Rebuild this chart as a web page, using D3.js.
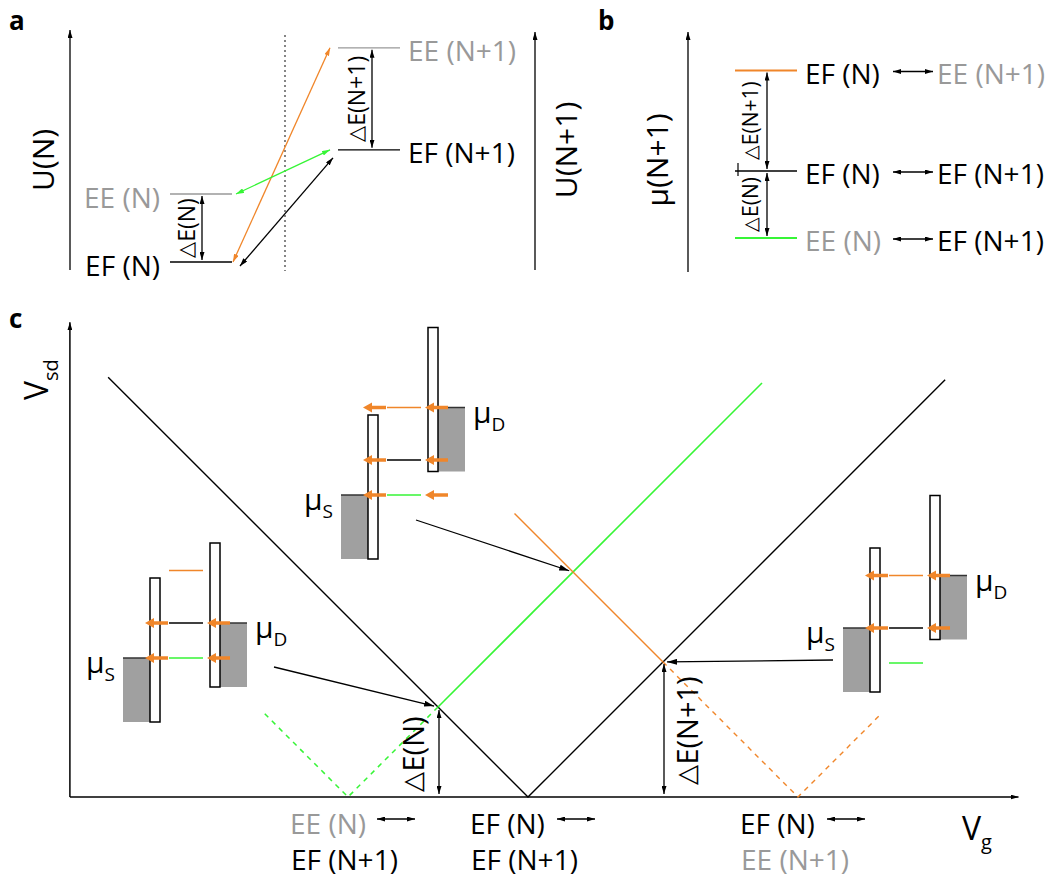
<!DOCTYPE html>
<html><head><meta charset="utf-8">
<script src="https://cdn.jsdelivr.net/npm/d3@7"></script>
<style>body{margin:0;background:#fff} svg{display:block} text{font-family:"Open Sans",sans-serif}</style>
</head><body>
<script>
// ---------- DATA ----------
// Panel a: energy levels (units of level spacing)
const levelNamesA = ["EF (N)", "EE (N)", "EF (N+1)", "EE (N+1)"];
const levelEnergyA = [0, 2, 3.3, 6.3];
const levelChargeA = ["N", "N", "N+1", "N+1"];
const transitionFromA = ["EF (N)", "EE (N)", "EF (N)"];
const transitionToA = ["EE (N+1)", "EF (N+1)", "EF (N+1)"];
// Panel b: chemical potentials mu(N+1)
const muLevelsB = [5, 2, 0];
const leftStatesB = ["EF (N)", "EF (N)", "EE (N)"];
const rightStatesB = ["EE (N+1)", "EF (N+1)", "EF (N+1)"];
// Panel c: diamond edges (Vg, Vsd)
const dEN = 2, dENp1 = 3;
const blackV = [[-9.33, 9.33], [0, 0], [9.27, 9.27]];
const greenSolid = [[-2, 2], [5.2, 9.2]];
const greenDashed = [[-2, 2], [-4, 0], [-5.85, 1.85]];
const orangeSolid = [[-0.3, 6.3], [3, 3]];
const orangeDashed = [[3, 3], [6, 0], [7.85, 1.85]];
const vgRange = [-10.18, 10.9];
const vsdMax = 10.55;
// insets: point in (Vg,Vsd) they refer to, bias (muD-muS), green level rel. muS
const insetPoints = [[-2, 2], [1, 5], [3, 3]];
const insetBias = [2, 5, 3];
const insetGreenOffset = [0, 0, -2];
// bottom labels at the three vertices
const bottomVertices = [-4, 0, 6];
const bottomTop = ["EE (N)", "EF (N)", "EF (N)"];
const bottomBottom = ["EF (N+1)", "EF (N+1)", "EE (N+1)"];

// ---------- STYLE ----------
const ORANGE = "#f0862a", GREEN = "#36f536", GREY = "#999999", FILL = "#a0a0a0";
const FS = 28;
const colorOf = s => s.startsWith("EE") ? GREY : "#000";

const svg = d3.select("body").append("svg").attr("width", 1054).attr("height", 879);
const defs = svg.append("defs");
function marker(id, color, len, wid) {
  defs.append("marker").attr("id", id).attr("markerUnits", "userSpaceOnUse")
    .attr("markerWidth", len).attr("markerHeight", wid).attr("refX", len).attr("refY", wid / 2)
    .attr("orient", "auto-start-reverse")
    .append("path").attr("d", `M0,0L${len},${wid / 2}L0,${wid}Z`).attr("fill", color);
}
marker("mk", "#000", 8, 5);
marker("mo", ORANGE, 8, 5);
marker("mg", GREEN, 8, 5);
marker("mb", "#000", 10, 6);
const mk = {"#000": "mk"}; mk[ORANGE] = "mo"; mk[GREEN] = "mg";

function arrow(g, x1, y1, x2, y2, color, dbl, w, m) {
  const l = g.append("line").attr("x1", x1).attr("y1", y1).attr("x2", x2).attr("y2", y2)
    .attr("stroke", color).attr("stroke-width", w || 1.3)
    .attr("marker-end", `url(#${m || mk[color]})`);
  if (dbl) l.attr("marker-start", `url(#${m || mk[color]})`);
  return l;
}
function rotText(g, x, y, txt, size, color) {
  return g.append("text").attr("transform", `translate(${x},${y}) rotate(-90)`)
    .attr("text-anchor", "middle").attr("dominant-baseline", "central")
    .attr("font-size", size).attr("fill", color || "#000").text(txt);
}
function deltaText(g, x, y, rest, size) {
  const t = g.append("text").attr("transform", `translate(${x},${y}) rotate(-90)`)
    .attr("text-anchor", "middle").attr("dominant-baseline", "central").attr("font-size", size);
  t.append("tspan").attr("font-family", "DejaVu Sans").attr("font-weight", 200).attr("font-size", size * 0.9).text("\u25B3");
  t.append("tspan").text(rest);
}
function label(g, x, y, txt, anchor, size) {
  g.append("text").attr("x", x).attr("y", y).attr("font-size", size || FS)
    .attr("text-anchor", anchor || "start").attr("dominant-baseline", "central")
    .attr("fill", colorOf(txt)).text(txt);
}
function panelLetter(x, y, t) {
  svg.append("text").attr("x", x).attr("y", y).attr("font-size", 26).attr("font-weight", "bold").text(t);
}

// ---------- PANEL a ----------
const gA = svg.append("g");
panelLetter(9, 30, "a");
const yA = d3.scaleLinear().domain([0, 1]).range([262, 228]);
const xLineA = {"N": [170, 232], "N+1": [338, 400]};
arrow(gA, 70, 270, 70, 30, "#000", false, 1.3);
arrow(gA, 535, 270, 535, 32, "#000", false, 1.3);
rotText(gA, 42, 160, "U(N)", 30);
rotText(gA, 565, 150, "U(N+1)", 30);
gA.append("line").attr("x1", 285).attr("x2", 285).attr("y1", 35).attr("y2", 271)
  .attr("stroke", "#444").attr("stroke-width", 1.3).attr("stroke-dasharray", "2,3");
levelNamesA.forEach((n, i) => {
  const xs = xLineA[levelChargeA[i]], y = yA(levelEnergyA[i]);
  gA.append("line").attr("x1", xs[0]).attr("x2", xs[1]).attr("y1", y).attr("y2", y)
    .attr("stroke", colorOf(n)).attr("stroke-width", 1.3);
  if (levelChargeA[i] === "N") label(gA, 160, y + 3, n, "end");
  else label(gA, 408, y + 2, n, "start");
});
const eA = n => levelEnergyA[levelNamesA.indexOf(n)];
arrow(gA, 202, yA(eA("EE (N)")) + 2, 202, yA(eA("EF (N)")) - 2, "#000", true);
deltaText(gA, 186, yA(1), "E(N)", 23);
arrow(gA, 372, yA(eA("EE (N+1)")) + 2, 372, yA(eA("EF (N+1)")) - 2, "#000", true);
deltaText(gA, 356, yA((eA("EE (N+1)") + eA("EF (N+1)")) / 2), "E(N+1)", 23);
const trColors = [ORANGE, GREEN, "#000"];
const trOff = [[1, 0, -8, 0], [4, 0, -8, 0], [8, 4, -5, 8]];
transitionFromA.forEach((f, i) => {
  const o = trOff[i];
  arrow(gA, 232 + o[0], yA(eA(f)) + o[1], 338 + o[2], yA(eA(transitionToA[i])) + o[3], trColors[i], true, 1.3);
});

// ---------- PANEL b ----------
const gB = svg.append("g");
panelLetter(598, 30, "b");
const yB = d3.scaleLinear().domain([0, 1]).range([238, 204.5]);
arrow(gB, 688, 272, 688, 32, "#000", false, 1.3);
rotText(gB, 656, 160, "\u03BC(N+1)", 30);
const bColors = [ORANGE, "#000", GREEN];
muLevelsB.forEach((m, i) => {
  const y = yB(m);
  gB.append("line").attr("x1", 735).attr("x2", 797).attr("y1", y).attr("y2", y)
    .attr("stroke", bColors[i]).attr("stroke-width", i === 1 ? 1.3 : 2);
  label(gB, 805, y + 2, leftStatesB[i], "start");
  arrow(gB, 893, y + 1, 933, y + 1, "#000", true, 1.3);
  label(gB, 937, y + 2, rightStatesB[i], "start");
});
arrow(gB, 767, yB(5) + 2, 767, yB(2) - 2, "#000", true);
arrow(gB, 767, yB(2) + 2, 767, yB(0) - 2, "#000", true);
deltaText(gB, 750, yB(3.5), "E(N+1)", 21);
deltaText(gB, 750, yB(1), "E(N)", 21);
gB.append("line").attr("x1", 738).attr("x2", 738).attr("y1", yB(2) - 8).attr("y2", yB(2) + 5)
  .attr("stroke", "#000").attr("stroke-width", 1.2);

// ---------- PANEL c ----------
const gC = svg.append("g");
panelLetter(9, 328, "c");
const xC = d3.scaleLinear().domain([0, 1]).range([528, 573]);
const yC = d3.scaleLinear().domain([0, 1]).range([797, 752]);
arrow(gC, xC(vgRange[0]), yC(0), xC(vgRange[1]), yC(0), "#000", false, 1.5);
arrow(gC, xC(vgRange[0]), yC(0), xC(vgRange[0]), yC(vsdMax), "#000", false, 1.5);
// axis labels
const vsd = gC.append("text").attr("transform", "translate(48,400) rotate(-90)").attr("font-size", 32);
vsd.append("tspan").text("V");
vsd.append("tspan").attr("font-size", 20).attr("dy", 10).text("sd");
const vg = gC.append("text").attr("x", 962).attr("y", 840).attr("font-size", 32);
vg.append("tspan").text("V");
vg.append("tspan").attr("font-size", 20).attr("dy", 9).text("g");

const ln = d3.line().x(d => xC(d[0])).y(d => yC(d[1]));
gC.append("path").attr("d", ln(blackV)).attr("fill", "none").attr("stroke", "#000").attr("stroke-width", 1.4);
gC.append("path").attr("d", ln(greenSolid)).attr("fill", "none").attr("stroke", GREEN).attr("stroke-width", 1.6);
gC.append("path").attr("d", ln(greenDashed)).attr("fill", "none").attr("stroke", GREEN).attr("stroke-width", 1.5).attr("stroke-dasharray", "5,5");
gC.append("path").attr("d", ln(orangeSolid)).attr("fill", "none").attr("stroke", ORANGE).attr("stroke-width", 1.4);
gC.append("path").attr("d", ln(orangeDashed)).attr("fill", "none").attr("stroke", ORANGE).attr("stroke-width", 1.4).attr("stroke-dasharray", "5,5");

// Delta E arrows
arrow(gC, xC(-2) + 1, yC(dEN) + 3, xC(-2) + 1, yC(0) - 3, "#000", true, 1.3);
deltaText(gC, 412, yC(dEN / 2) + 2, "E(N)", 29);
arrow(gC, xC(3) + 1, yC(dENp1) + 2, xC(3) + 1, yC(0) - 3, "#000", true, 1.3);
deltaText(gC, 686, yC(dENp1 / 2) + 1, "E(N+1)", 29);

// bottom labels
bottomVertices.forEach((v, i) => {
  const x0 = xC(v) - 58;
  label(gC, x0, 823, bottomTop[i], "start");
  arrow(gC, x0 + 87, 819, x0 + 125, 819, "#000", true, 1.3);
  label(gC, x0 + 1, 859, bottomBottom[i], "start");
});

// insets
const u = 17.5;
const insetX = [150, 368, 870];
const insetMuS = [658, 495, 628];
const ptrStart = [[124, 9], [48, 25], [-37, 32]];
function thickArrow(g, x1, x2, y) {
  g.append("line").attr("x1", x1).attr("x2", x2 + 7).attr("y1", y).attr("y2", y)
    .attr("stroke", ORANGE).attr("stroke-width", 3.5);
  g.append("path").attr("d", `M${x2},${y}L${x2 + 9},${y - 5}L${x2 + 9},${y + 5}Z`).attr("fill", ORANGE);
}
insetPoints.forEach((p, i) => {
  const g = gC.append("g");
  const bx = insetX[i], muS = insetMuS[i], muD = muS - insetBias[i] * u;
  // fills
  g.append("rect").attr("x", bx - 27).attr("y", muS).attr("width", 27).attr("height", 64).attr("fill", FILL);
  g.append("rect").attr("x", bx + 70).attr("y", muD).attr("width", 27).attr("height", 64).attr("fill", FILL);
  g.append("line").attr("x1", bx - 27).attr("x2", bx).attr("y1", muS).attr("y2", muS).attr("stroke", "#333").attr("stroke-width", 1.5);
  g.append("line").attr("x1", bx + 70).attr("x2", bx + 97).attr("y1", muD).attr("y2", muD).attr("stroke", "#333").attr("stroke-width", 1.5);
  // barriers
  g.append("rect").attr("x", bx).attr("y", muS - 80).attr("width", 10).attr("height", 144)
    .attr("fill", "#fff").attr("stroke", "#000").attr("stroke-width", 1.5);
  g.append("rect").attr("x", bx + 60).attr("y", muD - 80).attr("width", 10).attr("height", 144)
    .attr("fill", "#fff").attr("stroke", "#000").attr("stroke-width", 1.5);
  // dot levels
  const gy = muS - insetGreenOffset[i] * u;
  const lv = [[gy, GREEN], [gy - dEN * u, "#000"], [gy - (dEN + dENp1) * u, ORANGE]];
  lv.forEach(([y, c]) => {
    g.append("line").attr("x1", bx + 19).attr("x2", bx + 53).attr("y1", y).attr("y2", y)
      .attr("stroke", c).attr("stroke-width", c === ORANGE ? 1.6 : 1.3);
  });
  lv.forEach(([y]) => {
    if (y <= muS + 0.5 && y >= muD - 0.5) {
      thickArrow(g, bx + 18, bx - 5, y);
      thickArrow(g, bx + 80, bx + 57, y);
    }
  });
  // mu labels
  const ts = g.append("text").attr("x", bx - 35).attr("y", muS + 15).attr("text-anchor", "end").attr("font-size", 30);
  ts.append("tspan").text("\u03BC");
  ts.append("tspan").attr("font-size", 19).attr("dy", 8).text("S");
  const td = g.append("text").attr("x", bx + 105).attr("y", muD + 15).attr("font-size", 30);
  td.append("tspan").text("\u03BC");
  td.append("tspan").attr("font-size", 19).attr("dy", 8).text("D");
  // pointer
  const sx = bx + ptrStart[i][0], sy = muS + ptrStart[i][1];
  const tx = xC(p[0]), ty = yC(p[1]);
  const d = Math.hypot(tx - sx, ty - sy);
  const ex = tx - (tx - sx) / d * 4, ey = ty - (ty - sy) / d * 4;
  arrow(g, sx, sy, ex, ey, "#000", false, 1.3, "mb");
});
</script>
</body></html>
